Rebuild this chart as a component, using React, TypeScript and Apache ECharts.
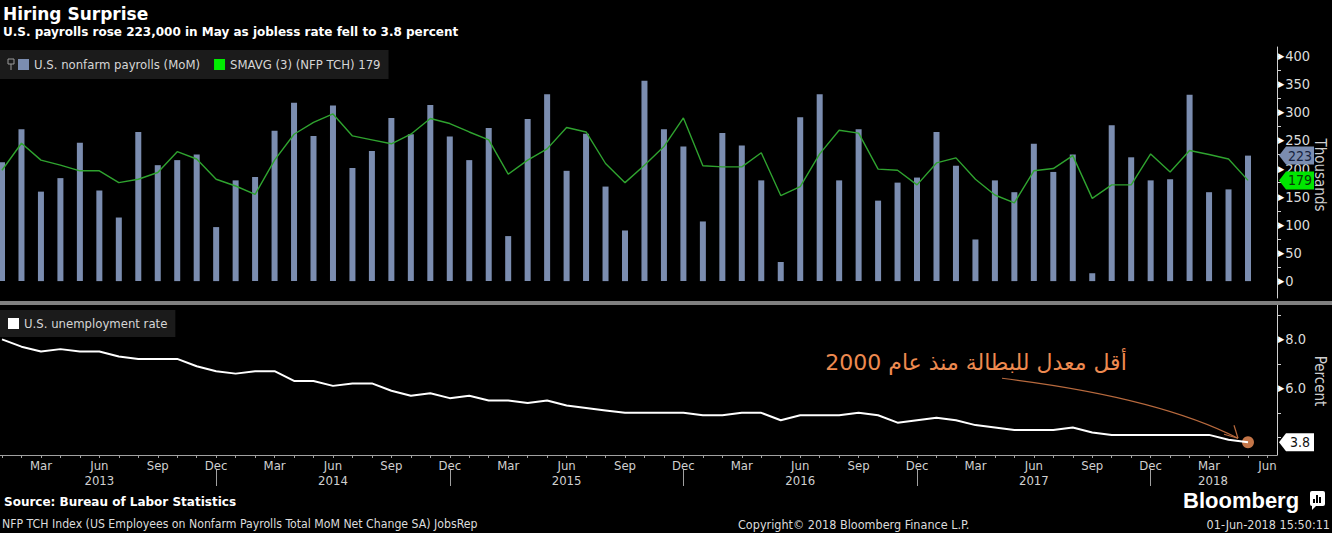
import React, { useEffect, useRef } from 'react';
import * as echarts from 'echarts';

// Jan 2013 .. May 2018, monthly (index 0 = Jan 2013)
const payrolls = [
  211, 270, 159, 183, 246, 161, 113, 265, 206, 215, 225, 96,
  179, 185, 267, 317, 258, 312, 201, 231, 290, 261, 313, 257,
  215, 272, 80, 288, 332, 196, 262, 168, 90, 356, 270, 239,
  106, 263, 241, 179, 34, 291, 332, 179, 270, 143, 175, 184,
  265, 205, 74, 179, 158, 244, 194, 225, 14, 277, 220, 179,
  181, 331, 158, 163, 223,
];
const smavg = [
  197, 245, 215, 206, 196, 196, 175, 181, 193, 230, 217, 181,
  169, 154, 215, 261, 282, 297, 258, 251, 244, 261, 289, 280,
  265, 251, 190, 215, 235, 273, 265, 209, 175, 206, 239, 290,
  205, 203, 203, 228, 152, 168, 226, 268, 263, 199, 197, 171,
  210, 219, 181, 153, 139, 196, 200, 223, 147, 171, 171, 226,
  194, 232, 225, 217, 179,
];
const unemployment = [
  8.0, 7.7, 7.5, 7.6, 7.5, 7.5, 7.3, 7.2, 7.2, 7.2, 6.9, 6.7,
  6.6, 6.7, 6.7, 6.3, 6.3, 6.1, 6.2, 6.2, 5.9, 5.7, 5.8, 5.6,
  5.7, 5.5, 5.5, 5.4, 5.5, 5.3, 5.2, 5.1, 5.0, 5.0, 5.0, 5.0,
  4.9, 4.9, 5.0, 5.0, 4.7, 4.9, 4.9, 4.9, 5.0, 4.9, 4.6, 4.7,
  4.8, 4.7, 4.5, 4.4, 4.3, 4.3, 4.3, 4.4, 4.2, 4.1, 4.1, 4.1,
  4.1, 4.1, 4.1, 3.9, 3.8,
];
const monthNames = ['Jan', 'Feb', 'Mar', 'Apr', 'May', 'Jun', 'Jul', 'Aug', 'Sep', 'Oct', 'Nov', 'Dec'];
const monthLabelIdx = [2, 5, 8, 11, 14, 17, 20, 23, 26, 29, 32, 35, 38, 41, 44, 47, 50, 53, 56, 59, 62, 65];
const yearLabels = ['2013', '2014', '2015', '2016', '2017', '2018'];
const yearLabelPos = [5, 17, 29, 41, 53, 62.2];
const yearSeparators = [11, 23, 35, 47, 59];
const payrollTicks = [0, 50, 100, 150, 200, 250, 300, 350, 400];
const payrollMinor = [0, 25, 50, 75, 100, 125, 150, 175, 200, 225, 250, 275, 300, 325, 350, 375, 400];
const rateTicks = [6, 8];
const rateMinor = [4, 5, 6, 7, 8, 9];

const X_MIN = -0.103;
const X_MAX = 65.49;
const FC = "'Liberation Sans Narrow', 'DejaVu Sans Condensed', 'Liberation Sans', sans-serif";
const FB = "'DejaVu Sans', 'Liberation Sans', sans-serif";
const BAR = '#7b8db0';
const GREEN_LINE = '#2fa32f';
const ORANGE = '#f4925a';

export default function App() {
  const ref = useRef<HTMLDivElement>(null);
  useEffect(() => {
    if (!ref.current) return;
    const chart = echarts.init(ref.current, null, { renderer: 'svg' });
    const last = payrolls.length - 1;
    const months = payrolls.map((_, i) => i);
    const allMonths = Array.from({ length: 66 }, (_, i) => i);

    const yLabel = (fmt: (v: number) => string, values: number[]) => ({
      customValues: values, margin: 1, color: '#dcdcdc', fontSize: 14.5, fontFamily: FC,
      formatter: (v: number) => `{t|▶}${fmt(v)}`,
      rich: { t: { fontSize: 9, color: '#ffffff', padding: [0, 1, 0, 0] } },
    });

    chart.setOption({
      animation: false,
      backgroundColor: '#000',
      textStyle: { fontFamily: FC },
      grid: [
        { left: 0, right: 55, top: 47, height: 251, containLabel: false, outerBoundsMode: 'none' },
        { left: 0, right: 55, top: 305, height: 150, containLabel: false, outerBoundsMode: 'none' },
      ],
      legend: [
        {
          left: 0, top: 50, padding: [8, 8, 8, 18], itemGap: 14,
          backgroundColor: '#1b1b1b', itemWidth: 11, itemHeight: 11, icon: 'rect',
          textStyle: { color: '#d6d6d6', fontSize: 13, fontFamily: FC },
          data: [
            { name: 'U.S. nonfarm payrolls (MoM)', itemStyle: { color: BAR } },
            { name: 'SMAVG (3) (NFP TCH) 179', itemStyle: { color: '#00ee00' } },
          ],
        },
        {
          left: 0, top: 310, padding: [7, 8, 7, 8],
          backgroundColor: '#1b1b1b', itemWidth: 11, itemHeight: 11, icon: 'rect',
          textStyle: { color: '#d6d6d6', fontSize: 13, fontFamily: FC },
          data: [{ name: 'U.S. unemployment rate', itemStyle: { color: '#ffffff' } }],
        },
      ],
      xAxis: [
        { gridIndex: 0, type: 'value', min: X_MIN, max: X_MAX, show: false, axisLine: { onZero: false } },
        {
          gridIndex: 1, type: 'value', min: X_MIN, max: X_MAX, position: 'bottom',
          axisLine: { onZero: false, lineStyle: { color: '#a0a0a0' } },
          axisTick: { customValues: allMonths, length: 3, lineStyle: { color: '#a0a0a0' } },
          axisLabel: {
            customValues: monthLabelIdx, margin: 4, color: '#d0d0d0', fontSize: 13, fontFamily: FC,
            formatter: (v: number) => monthNames[Math.round(v) % 12],
          },
          splitLine: { show: false },
        },
        {
          gridIndex: 1, type: 'value', min: X_MIN, max: X_MAX, position: 'bottom', offset: 14,
          axisLine: { show: false, onZero: false },
          axisTick: { customValues: yearSeparators, length: 17, lineStyle: { color: '#a0a0a0' } },
          axisLabel: {
            customValues: yearLabelPos, margin: 5, color: '#d0d0d0', fontSize: 13, fontFamily: FC,
            formatter: (v: number) => yearLabels[yearLabelPos.indexOf(v)] ?? '',
          },
          splitLine: { show: false },
        },
      ],
      yAxis: [
        {
          gridIndex: 0, type: 'value', position: 'right', min: -30, max: 416,
          axisLine: { show: true, onZero: false, lineStyle: { color: '#cfcfcf' } },
          axisTick: { show: true, customValues: payrollMinor, length: 4, lineStyle: { color: '#cfcfcf' } },
          axisLabel: yLabel((v) => String(v), payrollTicks),
          splitLine: { show: false },
        },
        {
          gridIndex: 1, type: 'value', position: 'right', min: 3.28, max: 9.4,
          axisLine: { show: true, onZero: false, lineStyle: { color: '#cfcfcf' } },
          axisTick: { show: true, customValues: rateMinor, length: 4, lineStyle: { color: '#cfcfcf' } },
          axisLabel: yLabel((v) => v.toFixed(1), rateTicks),
          splitLine: { show: false },
        },
      ],
      series: [
        {
          name: 'U.S. nonfarm payrolls (MoM)', type: 'bar', xAxisIndex: 0, yAxisIndex: 0,
          barWidth: 6, itemStyle: { color: BAR },
          data: months.map((i) => [i, payrolls[i]]),
        },
        {
          name: 'SMAVG (3) (NFP TCH) 179', type: 'line', xAxisIndex: 0, yAxisIndex: 0,
          symbol: 'none', lineStyle: { color: GREEN_LINE, width: 1.4 }, itemStyle: { color: GREEN_LINE },
          data: months.map((i) => [i, smavg[i]]),
        },
        {
          name: 'U.S. unemployment rate', type: 'line', xAxisIndex: 1, yAxisIndex: 1,
          symbol: 'none', lineStyle: { color: '#ffffff', width: 2 }, itemStyle: { color: '#fff' },
          data: months.map((i) => [i, unemployment[i]]),
        },
        {
          name: 'latest', type: 'scatter', xAxisIndex: 1, yAxisIndex: 1,
          symbolSize: 12, itemStyle: { color: ORANGE },
          data: [[last, unemployment[last]]],
        },
      ],
    });

    const axisX = chart.convertToPixel({ gridIndex: 0 }, [X_MAX, 0])[0];
    const yBar = chart.convertToPixel({ gridIndex: 0 }, [last, payrolls[last]])[1];
    const ySma = chart.convertToPixel({ gridIndex: 0 }, [last, smavg[last]])[1];
    const dot = chart.convertToPixel({ gridIndex: 1 }, [last, unemployment[last]]);

    const tag = (y: number, fill: string, color: string, label: string) => ({
      type: 'group', z: 100,
      children: [
        {
          type: 'polygon', z: 100,
          shape: { points: [[axisX + 2, y], [axisX + 9, y - 9], [axisX + 37, y - 9], [axisX + 37, y + 9], [axisX + 9, y + 9]] },
          style: { fill },
        },
        {
          type: 'text', z: 101, x: axisX + 23, y,
          style: { text: label, fill: color, fontSize: 14, fontFamily: FC, align: 'center', verticalAlign: 'middle', textAlign: 'center', textVerticalAlign: 'middle' },
        },
      ],
    });

    const txt = (x: number, y: number, text: string, font: any, extra: any = {}) => ({
      type: 'text', x, y, z: 50,
      style: { text, fill: '#e6e6e6', align: 'left', verticalAlign: 'middle', textAlign: 'left', textVerticalAlign: 'middle', ...font, ...extra },
    });

    const axisName = (y: number, text: string) => ({
      type: 'text', x: 1320, y, rotation: -Math.PI / 2, z: 50,
      style: { text, fill: '#cfcfcf', fontSize: 15, fontFamily: FC, align: 'center', verticalAlign: 'middle', textAlign: 'center', textVerticalAlign: 'middle' },
    });

    const ax = dot[0] - 10;
    const ay = dot[1] - 4;

    chart.setOption({
      graphic: [
        txt(3, 14, 'Hiring Surprise', { fontSize: 17, fontWeight: 'bold', fontFamily: FB, fill: '#ffffff' }),
        txt(3, 32, 'U.S. payrolls rose 223,000 in May as jobless rate fell to 3.8 percent', { fontSize: 12, fontWeight: 'bold', fontFamily: FB, fill: '#ffffff' }),
        // pin glyph in the legend
        { type: 'rect', z: 60, shape: { x: 8, y: 59, width: 6, height: 5 }, style: { fill: 'none', stroke: '#9a9a9a', lineWidth: 1 } },
        { type: 'line', z: 60, shape: { x1: 11, y1: 64, x2: 11, y2: 70 }, style: { stroke: '#9a9a9a', lineWidth: 1 } },
        { type: 'rect', z: 40, shape: { x: 0, y: 301, width: 1332, height: 4 }, style: { fill: '#808080' } },
        axisName(175, 'Thousands'),
        axisName(381, 'Percent'),
        tag(yBar, '#7b8db0', '#16223d', String(payrolls[last])),
        tag(ySma, '#00e600', '#083508', String(smavg[last])),
        tag(dot[1], '#ffffff', '#111111', unemployment[last].toFixed(1)),
        {
          type: 'text', z: 60, x: 976, y: 362,
          style: { text: 'أقل معدل للبطالة منذ عام 2000', fill: '#ee8a50', fontSize: 22, fontFamily: "'DejaVu Sans', sans-serif", align: 'center', verticalAlign: 'middle', textAlign: 'center', textVerticalAlign: 'middle' },
        },
        {
          type: 'bezierCurve', z: 60,
          shape: { x1: dot[0] - 246, y1: dot[1] - 64, cpx1: dot[0] - 90, cpy1: dot[1] - 45, x2: ax, y2: ay },
          style: { stroke: '#b86a3e', lineWidth: 1.2, fill: 'none' },
        },
        { type: 'line', z: 60, shape: { x1: ax, y1: ay, x2: ax - 4, y2: ay - 13 }, style: { stroke: '#b86a3e', lineWidth: 1.2 } },
        { type: 'line', z: 60, shape: { x1: ax, y1: ay, x2: ax - 14, y2: ay - 4 }, style: { stroke: '#b86a3e', lineWidth: 1.2 } },
        txt(4, 502, 'Source: Bureau of Labor Statistics', { fontSize: 12, fontWeight: 'bold', fontFamily: FB, fill: '#ffffff' }),
        txt(2, 524, 'NFP TCH Index (US Employees on Nonfarm Payrolls Total MoM Net Change SA) JobsRep', { fontSize: 12.2, fontFamily: FC, fill: '#dcdcdc' }),
        txt(738, 524, 'Copyright© 2018 Bloomberg Finance L.P.', { fontSize: 12.5, fontFamily: FC, fill: '#dcdcdc' }),
        txt(1330, 524, '01-Jun-2018 15:50:11', { fontSize: 12.5, fontFamily: FC, fill: '#dcdcdc', align: 'right', textAlign: 'right' }),
        txt(1183, 500, 'Bloomberg', { fontSize: 22, fontWeight: 'bold', fontFamily: "'Liberation Sans', 'Open Sans', sans-serif", fill: '#ffffff' }),
        { type: 'rect', z: 50, shape: { x: 1310, y: 491, width: 15, height: 15, r: 2 }, style: { fill: '#ffffff' } },
        { type: 'polygon', z: 50, shape: { points: [[1312, 505], [1312, 510], [1317, 505]] }, style: { fill: '#ffffff' } },
        { type: 'rect', z: 51, shape: { x: 1313, y: 499, width: 2, height: 4 }, style: { fill: '#000' } },
        { type: 'rect', z: 51, shape: { x: 1316, y: 495, width: 2, height: 8 }, style: { fill: '#000' } },
        { type: 'rect', z: 51, shape: { x: 1319, y: 497, width: 2, height: 6 }, style: { fill: '#000' } },
      ],
    });

    return () => chart.dispose();
  }, []);

  return (
    <div
      ref={ref}
      style={{ position: 'fixed', left: 0, top: 0, width: 1332, height: 533, background: '#000' }}
    />
  );
}
